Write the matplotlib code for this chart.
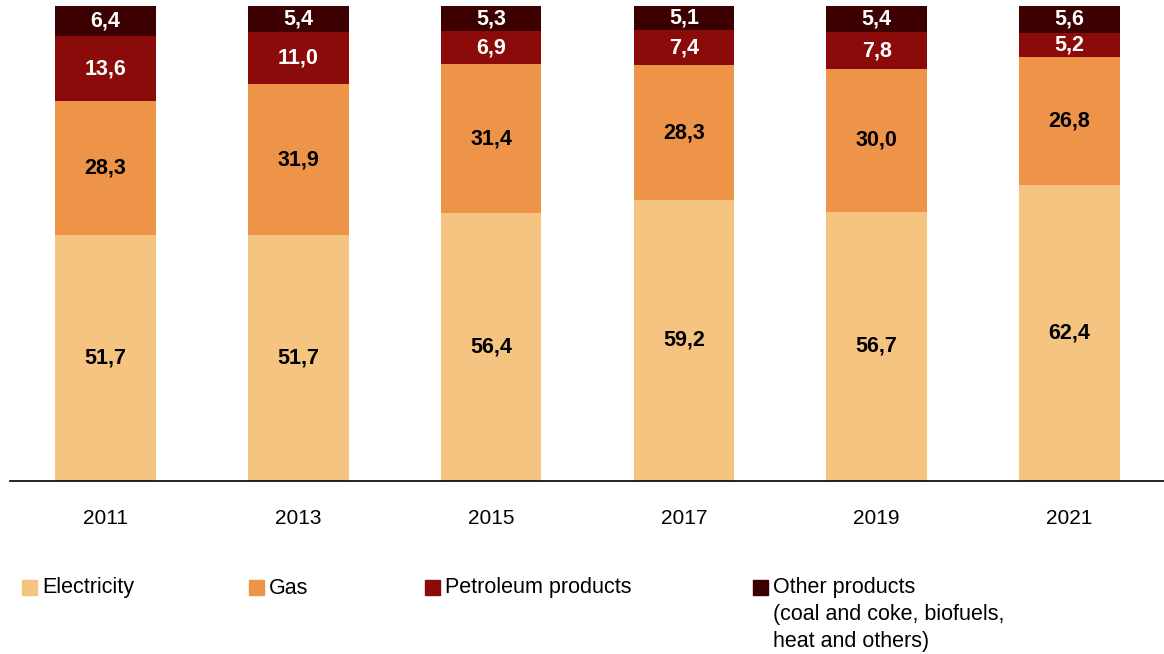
import matplotlib as mpl
import matplotlib.pyplot as plt
from matplotlib.patches import Rectangle

mpl.rcParams['font.family'] = ['Liberation Sans', 'DejaVu Sans']

# data (shares, %)
years = ['2011', '2013', '2015', '2017', '2019', '2021']
electricity = [51.7, 51.7, 56.4, 59.2, 56.7, 62.4]
gas = [28.3, 31.9, 31.4, 28.3, 30.0, 26.8]
petroleum = [13.6, 11.0, 6.9, 7.4, 7.8, 5.2]
other = [6.4, 5.4, 5.3, 5.1, 5.4, 5.6]

series = [electricity, gas, petroleum, other]
names = ['Electricity', 'Gas', 'Petroleum products',
         'Other products\n(coal and coke, biofuels,\nheat and others)']
colors = ['#F5C480', '#ED9448', '#8B0A0A', '#3C0000']
text_colors = ['black', 'black', 'white', 'white']

W, H = 1164, 654
fig = plt.figure(figsize=(W / 100, H / 100), dpi=100)
ax = fig.add_axes([10 / W, (H - 481) / H, (1164 - 10) / W, 475 / H])

x = list(range(len(years)))
bottom = [0.0] * len(years)
for vals, col, tc in zip(series, colors, text_colors):
    ax.bar(x, vals, width=0.522, bottom=bottom, color=col, linewidth=0)
    for i, v in enumerate(vals):
        ax.text(x[i], bottom[i] + v / 2, f'{v:.1f}'.replace('.', ','),
                ha='center', va='center', color=tc, fontsize=15.5,
                fontweight='bold')
    bottom = [b + v for b, v in zip(bottom, vals)]

ax.set_xlim(-0.495, 5.49)
ax.set_ylim(0, 100)
ax.set_xticks(x)
ax.set_xticklabels(years, fontsize=15)
ax.tick_params(axis='x', length=0, pad=20)
ax.set_yticks([])
for s in ['top', 'right', 'left']:
    ax.spines[s].set_visible(False)
ax.spines['bottom'].set_linewidth(1.2)
ax.spines['bottom'].set_color('black')

# legend, placed by hand like the original
leg_x = [22, 249, 425, 753]
for lx, col, name in zip(leg_x, colors, names):
    fig.patches.append(Rectangle((lx / W, (H - 595) / H), 15 / W, 15 / H,
                                 transform=fig.transFigure, color=col))
    if '\n' in name:
        fig.text((lx + 20) / W, (H - 577) / H, name, fontsize=15.5,
                 va='top', ha='left', linespacing=1.38)
    else:
        fig.text((lx + 20) / W, (H - 588) / H, name, fontsize=15.5,
                 va='center', ha='left')

fig.savefig('out.png', dpi=100)
